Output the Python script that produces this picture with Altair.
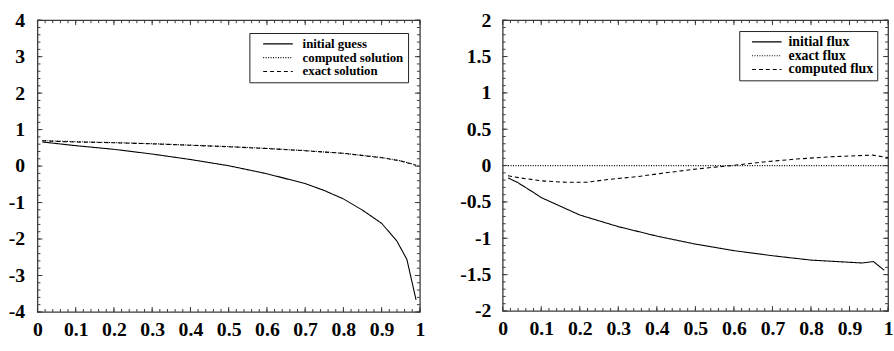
import altair as alt
import pandas as pd

# ---------------- data ----------------
# left panel
guess_x = [0.013, 0.1, 0.2, 0.3, 0.4, 0.5, 0.6, 0.7, 0.75, 0.8, 0.85, 0.9, 0.94, 0.966, 0.99]
guess_y = [0.66, 0.56, 0.46, 0.33, 0.18, 0.01, -0.21, -0.48, -0.67, -0.90, -1.21, -1.57, -2.06, -2.56, -3.67]
sol_x = [0.013, 0.1, 0.2, 0.3, 0.4, 0.5, 0.6, 0.7, 0.8, 0.9, 0.95, 0.99]
exact_sol_y = [0.69, 0.66, 0.64, 0.61, 0.57, 0.53, 0.48, 0.42, 0.35, 0.23, 0.14, 0.02]
computed_sol_y = [0.70, 0.67, 0.645, 0.615, 0.575, 0.535, 0.485, 0.425, 0.35, 0.235, 0.145, 0.03]

# right panel
iflux_x = [0.014, 0.038, 0.08, 0.1, 0.2, 0.3, 0.4, 0.5, 0.6, 0.7, 0.8, 0.9, 0.933, 0.962, 0.99]
iflux_y = [-0.17, -0.23, -0.37, -0.44, -0.68, -0.84, -0.97, -1.08, -1.17, -1.24, -1.30, -1.33, -1.34, -1.32, -1.44]
eflux_x = [0.014, 1.0]
eflux_y = [0.0, 0.0]
cflux_x = [0.014, 0.046, 0.1, 0.165, 0.217, 0.276, 0.353, 0.421, 0.506, 0.592, 0.677, 0.762, 0.847, 0.958, 1.0]
cflux_y = [-0.14, -0.17, -0.21, -0.23, -0.23, -0.19, -0.15, -0.10, -0.045, 0.0, 0.05, 0.09, 0.12, 0.145, 0.11]

left_series = ["initial guess", "computed solution", "exact solution"]
right_series = ["initial flux", "exact flux", "computed flux"]

x_major = [0, 0.1, 0.2, 0.3, 0.4, 0.5, 0.6, 0.7, 0.8, 0.9, 1]
x_minor = [round(i * 0.02, 2) for i in range(51)]
left_y_major = [-4, -3, -2, -1, 0, 1, 2, 3, 4]
left_y_minor = [round(-4 + i * 0.2, 1) for i in range(41)]
right_y_major = [-2, -1.5, -1, -0.5, 0, 0.5, 1, 1.5, 2]
right_y_minor = [round(-2 + i * 0.1, 1) for i in range(41)]

FONT = "Liberation Serif"
FRAME = "#3a3a3a"

def long_df(pairs):
    rows = []
    for name, xs, ys in pairs:
        for x, y in zip(xs, ys):
            rows.append({"series": name, "x": x, "y": y})
    return pd.DataFrame(rows)

left_df = long_df([
    ("initial guess", guess_x, guess_y),
    ("computed solution", sol_x, computed_sol_y),
    ("exact solution", sol_x, exact_sol_y),
])
right_df = long_df([
    ("initial flux", iflux_x, iflux_y),
    ("exact flux", eflux_x, eflux_y),
    ("computed flux", cflux_x, cflux_y),
])

DASHES = [[1, 0], [1, 1.5], [4, 3]]
LABEL_EXPR = "replace(datum.label, '\u2212', '-')"


def make_axis(values, pad):
    return alt.Axis(values=values, format="~g", labelExpr=LABEL_EXPR, labelPadding=pad,
                    labelFont=FONT, labelFontWeight="bold", labelFontSize=20,
                    labelColor="black", ticks=False, domain=False, grid=False,
                    labelFlush=False, labelOverlap=False)


def panel(df, order, ydom, ymaj, ymin, W, H, lx, ly, ylabpad, sym_off, lab_off, lfs):
    xscale = alt.Scale(domain=[0, 1], nice=False, zero=False)
    yscale = alt.Scale(domain=ydom, nice=False, zero=False)
    xaxis = make_axis(x_major, 8)
    yaxis = make_axis(ymaj, ylabpad)
    lines = alt.Chart(df).mark_line(color="black", strokeWidth=1.1).encode(
        x=alt.X("x:Q", scale=xscale, title=None, axis=xaxis),
        y=alt.Y("y:Q", scale=yscale, title=None, axis=yaxis),
        strokeDash=alt.StrokeDash(
            "series:N",
            scale=alt.Scale(domain=order, range=DASHES),
            sort=order,
            legend=alt.Legend(title=None, orient="none", legendX=lx, legendY=ly,
                              symbolType="M-2.5,0H2.5", symbolSize=144,
                              symbolStrokeWidth=1.1, symbolStrokeColor="black",
                              symbolOffset=sym_off, labelOffset=lab_off,
                              labelFont=FONT, labelFontWeight="bold", labelFontSize=lfs,
                              labelColor="black", fillColor="white", strokeColor="#222",
                              padding=4, rowPadding=0),
        ),
    )
    layers = [lines]
    for vals, ln in ((x_minor, 3), (x_major, 5)):
        d = pd.DataFrame({"v": vals})
        base = alt.Chart(d).mark_rule(color=FRAME, strokeWidth=1)
        layers.append(base.encode(x=alt.X("v:Q", scale=xscale, title=None, axis=xaxis),
                                  y=alt.value(H), y2=alt.value(H - ln)))
        layers.append(base.encode(x=alt.X("v:Q", scale=xscale, title=None, axis=xaxis),
                                  y=alt.value(0), y2=alt.value(ln)))
    for vals, ln in ((ymin, 3), (ymaj, 5)):
        d = pd.DataFrame({"v": vals})
        base = alt.Chart(d).mark_rule(color=FRAME, strokeWidth=1)
        layers.append(base.encode(y=alt.Y("v:Q", scale=yscale, title=None, axis=yaxis),
                                  x=alt.value(0), x2=alt.value(ln)))
        layers.append(base.encode(y=alt.Y("v:Q", scale=yscale, title=None, axis=yaxis),
                                  x=alt.value(W), x2=alt.value(W - ln)))
    return alt.layer(*layers).properties(width=W, height=H)


left = panel(left_df, left_series, [-4, 4], left_y_major, left_y_minor,
             388, 296, 215, 13, 13, 18, 18, 13)
right = panel(right_df, right_series, [-2, 2], right_y_major, right_y_minor,
              391, 295, 240, 11, 12, 17, 15, 14)

chart = alt.hconcat(left, right, spacing=33).resolve_scale(
    strokeDash="independent"
).resolve_legend(strokeDash="independent").configure(
    padding={"left": 7, "top": 7, "right": 0, "bottom": 0},
).configure_view(stroke=FRAME, strokeWidth=1.3)

chart.save("out.html", embed_options={"renderer": "svg", "actions": False})
